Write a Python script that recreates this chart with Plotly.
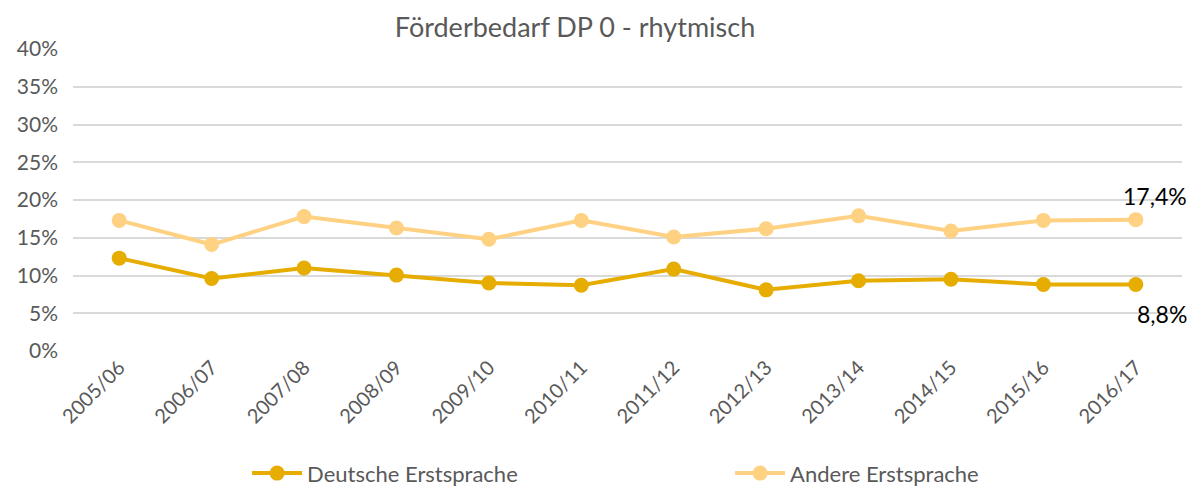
import plotly.graph_objects as go

categories = ["2005/06", "2006/07", "2007/08", "2008/09", "2009/10", "2010/11",
              "2011/12", "2012/13", "2013/14", "2014/15", "2015/16", "2016/17"]
deutsche = [12.3, 9.6, 11.0, 10.05, 9.0, 8.7, 10.85, 8.1, 9.3, 9.5, 8.8, 8.8]
andere = [17.3, 14.1, 17.8, 16.3, 14.8, 17.3, 15.1, 16.2, 17.9, 15.9, 17.3, 17.4]
y_ticks = [0, 5, 10, 15, 20, 25, 30, 35, 40]
y_labels = [f"{v}%" for v in y_ticks]
end_labels = ["8,8%", "17,4%"]

FONT = "Lato, Calibri, Carlito, sans-serif"
C_DE = "#E6AC00"
C_AN = "#FFD183"

fig = go.Figure()
fig.add_trace(go.Scatter(x=categories, y=deutsche, name="Deutsche Erstsprache",
                         mode="lines+markers",
                         line=dict(color=C_DE, width=4),
                         marker=dict(color=C_DE, size=15)))
fig.add_trace(go.Scatter(x=categories, y=andere, name="Andere Erstsprache",
                         mode="lines+markers",
                         line=dict(color=C_AN, width=4),
                         marker=dict(color=C_AN, size=15)))

fig.add_annotation(x=categories[-1], y=deutsche[-1], text=end_labels[0],
                   showarrow=False, xshift=26, yshift=-29,
                   font=dict(family=FONT, size=23, color="#000000"))
fig.add_annotation(x=categories[-1], y=andere[-1], text=end_labels[1],
                   showarrow=False, xshift=19, yshift=24,
                   font=dict(family=FONT, size=23, color="#000000"))

# the page body has an 8px default margin, so the figure is sized to fit
fig.update_layout(
    width=1192, height=481,
    margin=dict(l=65, r=18, t=41, b=138, autoexpand=False),
    paper_bgcolor="white", plot_bgcolor="white",
    font=dict(family=FONT, color="#595959", size=20),
    title=dict(text="Förderbedarf DP 0 - rhytmisch", x=0.4757, xanchor="center",
               xref="container", yref="container",
               y=0.96, yanchor="middle",
               font=dict(family=FONT, size=27, color="#595959")),
    xaxis=dict(type="category", tickangle=-45, showgrid=False, zeroline=False,
               showline=False, ticks="", automargin=False,
               tickfont=dict(size=20, color="#595959"),
               range=[-0.5, len(categories) - 0.5]),
    yaxis=dict(range=[0, 40], tickvals=y_ticks, ticktext=y_labels,
               showgrid=True, gridcolor="#D9D9D9", gridwidth=1.5,
               zeroline=False, showline=False, ticks="", automargin=False,
               ticklabelstandoff=14,
               tickfont=dict(size=21, color="#595959")),
    legend=dict(orientation="h", x=0.5925, xanchor="center", y=-0.405, yanchor="middle",
                font=dict(size=22, color="#595959"), itemwidth=50,
                entrywidth=418, entrywidthmode="pixels"),
    showlegend=True,
)

fig.write_html("out.html")
